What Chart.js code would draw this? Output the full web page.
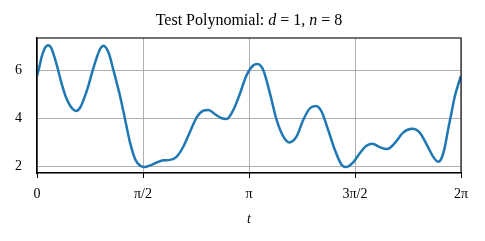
<!DOCTYPE html>
<html><head><meta charset="utf-8">
<script src="https://cdn.jsdelivr.net/npm/chart.js@4/dist/chart.umd.min.js"></script>
<style>html,body{margin:0;padding:0;background:#fff}#wrap{width:485px;height:241px}</style>
</head><body><div id="wrap"><canvas id="c" width="485" height="241"></canvas></div>
<script>
const tValues = [0.000,0.030,0.074,0.120,0.165,0.210,0.260,0.310,0.360,0.420,0.480,0.530,0.580,0.640,0.700,0.760,0.820,0.880,0.935,0.986,1.060,1.134,1.233,1.307,1.381,1.455,1.529,1.593,1.677,1.775,1.874,1.972,2.071,2.170,2.268,2.367,2.466,2.540,2.638,2.737,2.811,2.910,3.008,3.107,3.206,3.265,3.354,3.452,3.551,3.649,3.738,3.847,3.945,4.044,4.133,4.217,4.315,4.414,4.513,4.587,4.685,4.784,4.883,4.971,5.080,5.188,5.302,5.425,5.558,5.672,5.795,5.869,5.943,5.990,6.040,6.090,6.140,6.190,6.240,6.283];
const yValues = [5.77,6.10,6.62,6.96,7.06,6.95,6.55,6.05,5.50,4.95,4.58,4.38,4.31,4.45,4.85,5.35,5.95,6.50,6.90,7.04,6.75,6.00,4.90,3.93,2.96,2.29,2.01,1.96,2.03,2.15,2.24,2.26,2.40,2.82,3.44,4.04,4.32,4.35,4.17,4.00,3.97,4.35,5.04,5.81,6.22,6.27,6.01,5.04,3.93,3.24,2.99,3.24,3.93,4.42,4.51,4.28,3.51,2.68,2.06,1.96,2.15,2.54,2.85,2.93,2.79,2.71,2.96,3.40,3.56,3.40,2.79,2.40,2.18,2.30,2.75,3.50,4.20,4.90,5.40,5.77];
const xTickValues = [0, Math.PI/2, Math.PI, 3*Math.PI/2, 2*Math.PI];
const xTickLabels = ['0', 'π/2', 'π', '3π/2', '2π'];
const yTickValues = [2, 4, 6];
const yMin = 1.71, yMax = 7.36;

const points = tValues.map((t, i) => ({x: t, y: yValues[i]}));
const SERIF = '"Liberation Serif", "DejaVu Serif", serif';

const framePlugin = {
  id: 'frame',
  afterDraw(chart) {
    const {ctx, chartArea: a} = chart;
    ctx.save();
    ctx.strokeStyle = '#000';
    ctx.lineWidth = 1.1;
    ctx.strokeRect(a.left, a.top, a.right - a.left, a.bottom - a.top);
    const segs = [['Test Polynomial: ', 'normal'], ['d', 'italic'], [' = 1, ', 'normal'], ['n', 'italic'], [' = 8', 'normal']];
    let total = 0;
    segs.forEach(s => { ctx.font = s[1] + ' 16px ' + SERIF; total += ctx.measureText(s[0]).width; });
    let x = (a.left + a.right) / 2 - total / 2;
    ctx.fillStyle = '#000';
    ctx.textBaseline = 'middle';
    ctx.textAlign = 'left';
    segs.forEach(s => { ctx.font = s[1] + ' 16px ' + SERIF; ctx.fillText(s[0], x, 21); x += ctx.measureText(s[0]).width; });
    ctx.restore();
  }
};

new Chart(document.getElementById('c'), {
  type: 'line',
  data: { datasets: [{ data: points, borderColor: '#1f77b4', borderWidth: 2.5, pointRadius: 0, fill: false, cubicInterpolationMode: 'monotone' }] },
  options: {
    responsive: false, animation: false,
    layout: { padding: { top: 38, right: 24, left: 0, bottom: 13 } },
    plugins: { legend: { display: false }, tooltip: { enabled: false }, title: { display: false } },
    scales: {
      x: {
        type: 'linear', min: 0, max: 2 * Math.PI,
        afterBuildTicks: s => { s.ticks = xTickValues.map(v => ({value: v})); },
        afterFit: s => { s.height = 55; },
        ticks: { callback: (v, i) => xTickLabels[i], color: '#000', font: { family: SERIF, size: 14 }, padding: 8, maxRotation: 0, autoSkip: false },
        grid: { color: '#b0b0b0', lineWidth: 1, tickColor: '#000', tickLength: 5, drawTicks: true },
        border: { display: true, color: '#000', width: 1.1 },
        title: { display: true, text: 't', color: '#000', font: { family: SERIF, size: 14, style: 'italic' }, padding: { top: 4, bottom: 0 } }
      },
      y: {
        type: 'linear', min: yMin, max: yMax,
        afterBuildTicks: s => { s.ticks = yTickValues.map(v => ({value: v})); },
        afterFit: s => { s.width = 37; },
        ticks: { color: '#000', font: { family: SERIF, size: 14 }, padding: 15 },
        grid: { color: '#b0b0b0', lineWidth: 1, drawTicks: false },
        border: { display: true, color: '#000', width: 1.1 }
      }
    }
  },
  plugins: [framePlugin]
});
</script></body></html>
